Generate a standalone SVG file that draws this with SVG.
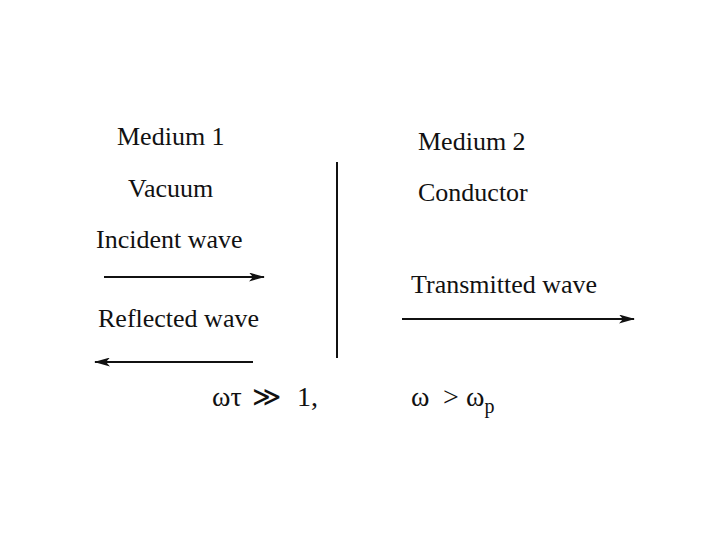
<svg xmlns="http://www.w3.org/2000/svg" width="720" height="540" viewBox="0 0 720 540">
<style>
text{font-family:"Liberation Serif","Times New Roman",serif;font-size:26px;fill:#111}
.f{font-size:28px}
.ln{stroke:#111;stroke-width:2;fill:none}
</style>
<defs>
<marker id="ah" viewBox="0 0 16 9" refX="15" refY="4.5" markerWidth="16" markerHeight="9" markerUnits="userSpaceOnUse" orient="auto">
<path d="M0,0 L16,4.5 L0,9 L4,4.5 Z" fill="#111"/>
</marker>
</defs>
<rect width="720" height="540" fill="#fff"/>
<g id="medium1">
<text x="117" y="145">Medium 1</text>
<text x="128" y="197">Vacuum</text>
</g>
<g id="medium2">
<text x="418" y="150">Medium 2</text>
<text x="418" y="201">Conductor</text>
</g>
<g id="incident"><text x="96" y="248">Incident wave</text></g>
<g id="reflected"><text x="98" y="327">Reflected wave</text></g>
<g id="transmitted"><text x="411" y="293">Transmitted wave</text></g>
<g id="interface"><line class="ln" x1="337" y1="162" x2="337" y2="358"/></g>
<g id="connectors">
<line class="ln" x1="104" y1="277" x2="264" y2="277" marker-end="url(#ah)"/>
<line class="ln" x1="253" y1="362" x2="95" y2="362" marker-end="url(#ah)"/>
<line class="ln" x1="402" y1="319" x2="634" y2="319" marker-end="url(#ah)"/>
</g>
<g id="conditions">
<text class="f" x="212" y="406">ωτ</text>
<text class="f" x="252" y="406">≫</text>
<text class="f" x="297" y="406">1,</text>
<text class="f" x="411" y="406">ω</text>
<text class="f" x="443" y="406">&gt;</text>
<text class="f" x="466" y="406">ω<tspan font-size="20" dy="7">p</tspan></text>
</g>
</svg>
